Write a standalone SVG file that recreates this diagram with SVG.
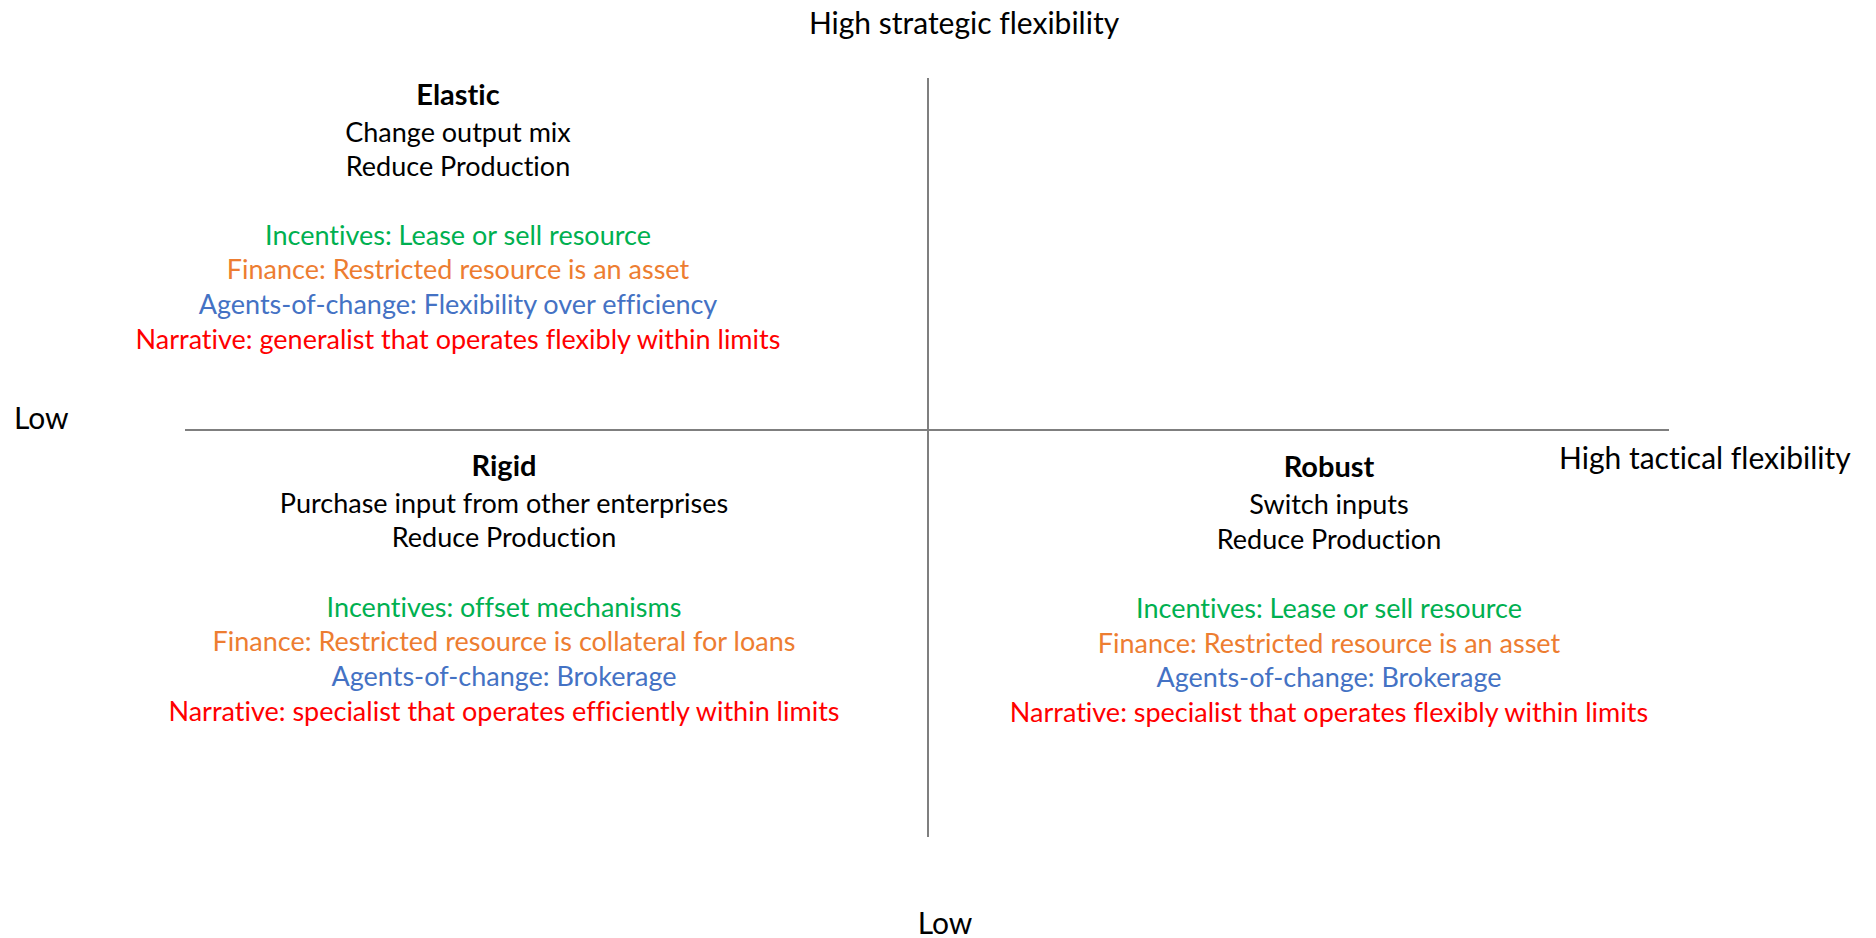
<svg xmlns="http://www.w3.org/2000/svg" width="1876" height="938" viewBox="0 0 1876 938">
  <style>
    text { font-family: Lato, "Open Sans", "Liberation Sans", sans-serif; font-size: 27px; fill: #000; font-variant-ligatures: none; }
    .c { text-anchor: middle; }
    .ax { font-size: 30px; }
    .title { font-weight: bold; font-size: 29px; }
    .inc { fill: #00B050; }
    .fin { fill: #ED7D31; }
    .agt { fill: #4472C4; }
    .nar { fill: #FF0000; }
    .axis { stroke: #7F7F7F; stroke-width: 2; fill: none; }
  </style>
  <rect width="1876" height="938" fill="#fff"/>

  <!-- quadrant axes -->
  <g id="connectors">
    <line class="axis" x1="928" y1="78" x2="928" y2="837"/>
    <line class="axis" x1="185" y1="430" x2="1669" y2="430"/>
  </g>

  <!-- axis labels -->
  <g id="axis-labels">
    <text class="c ax" x="964" y="34">High strategic flexibility</text>
    <text class="ax" x="14" y="429">Low</text>
    <text class="ax" x="1559" y="469">High tactical flexibility</text>
    <text class="c ax" x="945" y="934">Low</text>
  </g>

  <g id="elastic">
    <text class="c title" x="458" y="105">Elastic</text>
    <text class="c" x="458" y="142">Change output mix</text>
    <text class="c" x="458" y="176">Reduce Production</text>
    <text class="c inc" x="458" y="245">Incentives: Lease or sell resource</text>
    <text class="c fin" x="458" y="279">Finance: Restricted resource is an asset</text>
    <text class="c agt" x="458" y="314">Agents-of-change: Flexibility over efficiency</text>
    <text class="c nar" x="458" y="349">Narrative: generalist that operates flexibly within limits</text>
  </g>

  <g id="rigid">
    <text class="c title" x="504" y="476">Rigid</text>
    <text class="c" x="504" y="513">Purchase input from other enterprises</text>
    <text class="c" x="504" y="547">Reduce Production</text>
    <text class="c inc" x="504" y="617">Incentives: offset mechanisms</text>
    <text class="c fin" x="504" y="651">Finance: Restricted resource is collateral for loans</text>
    <text class="c agt" x="504" y="686">Agents-of-change: Brokerage</text>
    <text class="c nar" x="504" y="721">Narrative: specialist that operates efficiently within limits</text>
  </g>

  <g id="robust">
    <text class="c title" x="1329" y="477">Robust</text>
    <text class="c" x="1329" y="514">Switch inputs</text>
    <text class="c" x="1329" y="549">Reduce Production</text>
    <text class="c inc" x="1329" y="618">Incentives: Lease or sell resource</text>
    <text class="c fin" x="1329" y="653">Finance: Restricted resource is an asset</text>
    <text class="c agt" x="1329" y="687">Agents-of-change: Brokerage</text>
    <text class="c nar" x="1329" y="722">Narrative: specialist that operates flexibly within limits</text>
  </g>
</svg>
